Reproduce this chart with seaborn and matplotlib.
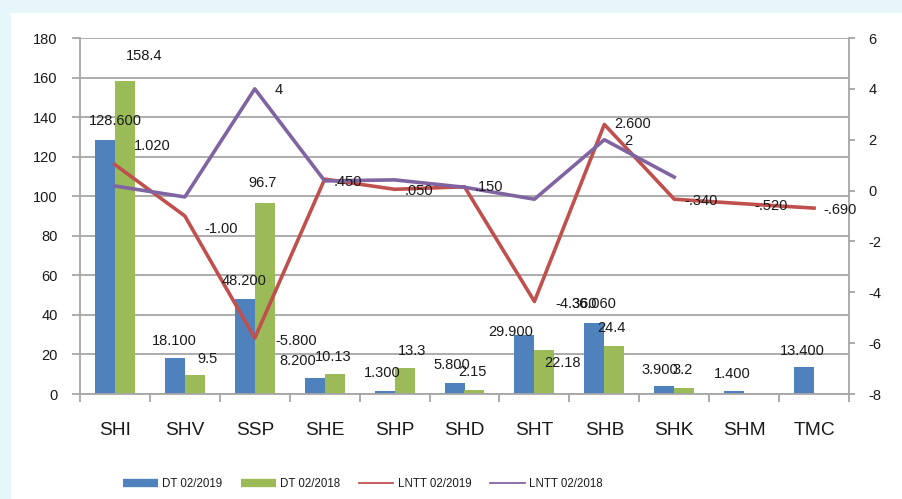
import numpy as np
import pandas as pd
import matplotlib
matplotlib.use("Agg")
import matplotlib.pyplot as plt
from matplotlib.patches import Rectangle
from matplotlib.lines import Line2D
import seaborn as sns

plt.rcParams["font.family"] = ["Liberation Sans", "DejaVu Sans"]
plt.rcParams["axes.unicode_minus"] = False

# chart data
companies = ["SHI", "SHV", "SSP", "SHE", "SHP", "SHD", "SHT", "SHB", "SHK", "SHM", "TMC"]
dt_2019 = [128.6, 18.1, 48.2, 8.2, 1.3, 5.8, 29.9, 36.06, 3.9, 1.4, 13.4]
dt_2018 = [158.4, 9.5, 96.7, 10.13, 13.3, 2.15, 22.18, 24.4, 3.2, np.nan, np.nan]
lntt_2019 = [1.02, -1.0, -5.8, 0.45, 0.05, 0.15, -4.36, 2.6, -0.34, -0.52, -0.69]
lntt_2018 = [0.18, -0.25, 4.0, 0.38, 0.42, 0.13, -0.34, 2.0, 0.53, np.nan, np.nan]

dt_2018_labels = ["158.4", "9.5", "96.7", "10.13", "13.3", "2.15", "22.18", "24.4", "3.2", None, None]
lntt_2019_labels = ["1.020", "-1.00", "-5.800", ".450", ".050", ".150", "-4.360", "2.600", "-.340", "-.520", "-.690"]
lntt_2018_labels = [None, None, "4", None, None, None, None, "2", None, None, None]

series_names = ["DT 02/2019", "DT 02/2018", "LNTT 02/2019", "LNTT 02/2018"]
colors = ["#4f81bd", "#9bbb59", "#c0504d", "#8064a2"]

# label nudges in pixels (dx, dy up), as placed in the original chart
off_blue = [(10, 18.6), (-1, 17), (-1, 17.7), (-17, 17), (-2, 18), (-3, 17.5),
            (-14, 3), (0, 18.7), (-4, 16), (-2, 17), (-2, 16.5)]
off_green = [(19, 24.7), (13, 16), (-2, 19.7), (-1, 17), (8, 16.7), (-2, 17.7),
             (18, -13), (-3, 17.7), (-2, 17.7), None, None]
off_red = [(37, 18.7), (36, -13), (41, -3), (23, -3), (24, -1.7), (24, 0),
           (42, -2.5), (28, 0), (27, -2), (27, -2), (26, -2)]
off_purple = [None, None, (24, -1), None, None, None, None, (24, -1), None, None, None]

bars = pd.DataFrame({
    "company": companies * 2,
    "value": dt_2019 + dt_2018,
    "series": [series_names[0]] * len(companies) + [series_names[1]] * len(companies),
}).dropna()

grey = "#a6a6a6"
fig = plt.figure(figsize=(9.02, 4.99), dpi=100)
fig.patch.set_facecolor("#e6f6fa")
fig.add_artist(Rectangle((11 / 902, 0), 1, (499 - 13) / 499, transform=fig.transFigure,
                         facecolor="white", edgecolor="none", zorder=0))
ax = fig.add_axes([80 / 902, 105 / 499, (849 - 80) / 902, (394 - 38) / 499])
ax.set_facecolor("none")

sns.barplot(data=bars, x="company", y="value", hue="series", order=companies,
            hue_order=series_names[:2], palette=colors[:2], width=0.57, gap=0,
            errorbar=None, legend=False, saturation=1, ax=ax, zorder=2)
ax.set_xlim(-0.5, len(companies) - 0.5)
ax.set_ylim(0, 180)
ax.set_yticks(np.arange(0, 181, 20))
ax.yaxis.grid(True, color=grey, lw=1.3, zorder=0)
ax.set_axisbelow(True)
ax.set_xlabel("")
ax.set_ylabel("")
for s in ["left", "bottom"]:
    ax.spines[s].set_color(grey)
    ax.spines[s].set_linewidth(1.3)
ax.spines["top"].set_visible(False)
ax.spines["right"].set_visible(False)
ax.set_xticks(np.arange(len(companies)))
ax.set_xticklabels(companies, fontsize=13.8, color="#1a1a1a")
ax.set_xticks(np.arange(-0.5, len(companies)), minor=True)
ax.tick_params(axis="x", which="major", length=0, pad=20)
ax.tick_params(axis="x", which="minor", length=6, width=1.3, color=grey)
ax.tick_params(axis="y", length=6, width=1.3, color=grey, labelsize=10.5,
               labelcolor="#1a1a1a", pad=10)

ax2 = ax.twinx()
x = np.arange(len(companies))
sns.lineplot(x=x, y=lntt_2019, color=colors[2], lw=2.6, ax=ax2, legend=False, zorder=3)
sns.lineplot(x=x, y=lntt_2018, color=colors[3], lw=2.6, ax=ax2, legend=False, zorder=4)
ax2.set_ylim(-8, 6)
ax2.set_yticks(np.arange(-8, 7, 2))
ax2.set_xlim(-0.5, len(companies) - 0.5)
for s in ["left", "top", "bottom"]:
    ax2.spines[s].set_visible(False)
ax2.spines["right"].set_color(grey)
ax2.spines["right"].set_linewidth(1.3)
ax2.tick_params(axis="y", length=4, width=1.3, color=grey, labelsize=10.5,
                labelcolor="#1a1a1a", pad=10)

txt = dict(textcoords="offset pixels", ha="center", va="center", fontsize=10.5,
           color="#1a1a1a", annotation_clip=False, zorder=6)
for i in range(len(companies)):
    ax2.annotate(f"{dt_2019[i]:.3f}", xy=(i - 0.1425, dt_2019[i]), xycoords=ax.transData,
                 xytext=off_blue[i], **txt)
    if dt_2018_labels[i] is not None:
        ax2.annotate(dt_2018_labels[i], xy=(i + 0.1425, dt_2018[i]), xycoords=ax.transData,
                     xytext=off_green[i], **txt)
    ax2.annotate(lntt_2019_labels[i], xy=(i, lntt_2019[i]), xytext=off_red[i], **txt)
    if lntt_2018_labels[i] is not None:
        ax2.annotate(lntt_2018_labels[i], xy=(i, lntt_2018[i]), xytext=off_purple[i], **txt)

handles = [Line2D([], [], color=colors[0], lw=6, solid_capstyle="butt"),
           Line2D([], [], color=colors[1], lw=6, solid_capstyle="butt"),
           Line2D([], [], color=colors[2], lw=1.3),
           Line2D([], [], color=colors[3], lw=1.3)]
fig.legend(handles, series_names, loc="center", bbox_to_anchor=(363 / 902, 1 - 484 / 499),
           ncol=4, frameon=False, fontsize=8.3, handlelength=3.0, handletextpad=0.4,
           columnspacing=1.6, labelcolor="#1a1a1a")

fig.savefig("out.png", dpi=100)
